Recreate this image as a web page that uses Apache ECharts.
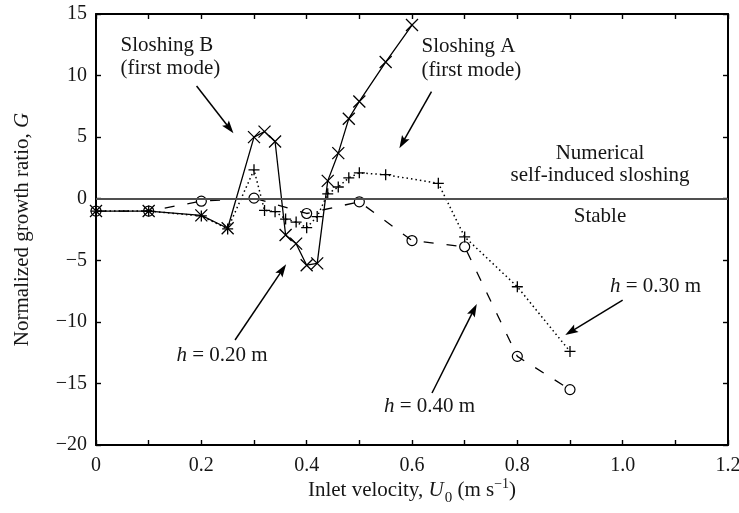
<!DOCTYPE html>
<html>
<head>
<meta charset="utf-8">
<script src="https://cdn.jsdelivr.net/npm/echarts@6/dist/echarts.min.js"></script>
<style>
  html, body { margin: 0; padding: 0; background: #fff; }
  #chart { width: 739px; height: 513px; }
</style>
</head>
<body>
<div id="chart"></div>
<script>
// Inlet velocity U0 (m/s) and normalized growth ratio G for three water depths h
const u020 = [0, 0.1, 0.2, 0.25, 0.3, 0.32, 0.34, 0.36, 0.38, 0.4, 0.42, 0.44, 0.46, 0.48, 0.5, 0.55, 0.6];
const g020 = [-1.0, -1.0, -1.35, -2.4, 5.0, 5.45, 4.65, -2.95, -3.65, -5.4, -5.25, 1.45, 3.7, 6.5, 7.9, 11.1, 14.1];

const u030 = [0, 0.1, 0.2, 0.25, 0.3, 0.32, 0.34, 0.36, 0.38, 0.4, 0.42, 0.44, 0.46, 0.48, 0.5, 0.55, 0.65, 0.7, 0.8, 0.9];
const g030 = [-1.0, -1.0, -1.4, -2.45, 2.35, -0.95, -1.05, -1.65, -1.9, -2.35, -1.45, 0.4, 0.95, 1.7, 2.1, 1.95, 1.25, -3.1, -7.15, -12.4];

const u040 = [0, 0.1, 0.2, 0.3, 0.4, 0.5, 0.6, 0.7, 0.8, 0.9];
const g040 = [-1.0, -1.0, -0.2, 0.05, -1.2, -0.25, -3.4, -3.9, -12.8, -15.5];

// Axis ranges and tick labels
const xMin = 0, xMax = 1.2, xStep = 0.1;
const yMin = -20, yMax = 15, yStep = 5;
const xTickLabels = ['0', '0.2', '0.4', '0.6', '0.8', '1.0', '1.2'];

// Threshold between growing sloshing and stable flow
const stabilityLimit = 0;

const SERIF = '"Liberation Serif", "Times New Roman", serif';
const INK = '#161616';

const chart = echarts.init(document.getElementById('chart'), null, { renderer: 'canvas' });

function pairs(xs, ys) { return xs.map((x, i) => [x, ys[i]]); }

const frameLine = { show: true, onZero: false, lineStyle: { color: '#000', width: 2 } };
const innerTick = { show: true, inside: true, length: 5, lineStyle: { color: '#000', width: 1.4 } };

const option = {
  animation: false,
  backgroundColor: '#fff',
  grid: { left: 96, right: 11, top: 14, bottom: 68, containLabel: false, outerBoundsMode: 'none' },
  xAxis: [
    {
      type: 'value', min: xMin, max: xMax, interval: xStep, position: 'bottom',
      axisLine: frameLine, axisTick: innerTick, splitLine: { show: false },
      axisLabel: {
        show: true, margin: 11, color: INK, fontFamily: SERIF, fontSize: 20,
        showMinLabel: true, showMaxLabel: true,
        formatter: function (v) {
          const k = Math.round(v * 10);
          return k % 2 === 0 ? xTickLabels[k / 2] : '';
        }
      }
    },
    {
      type: 'value', min: xMin, max: xMax, interval: xStep, position: 'top',
      axisLine: frameLine, axisTick: innerTick, splitLine: { show: false },
      axisLabel: { show: false }
    }
  ],
  yAxis: [
    {
      type: 'value', min: yMin, max: yMax, interval: yStep, position: 'left',
      axisLine: frameLine, axisTick: innerTick, splitLine: { show: false },
      axisLabel: {
        show: true, margin: 9, color: INK, fontFamily: SERIF, fontSize: 20,
        showMinLabel: true, showMaxLabel: true,
        formatter: function (v) { return v < 0 ? '\u2212' + Math.abs(v) : String(v); }
      }
    },
    {
      type: 'value', min: yMin, max: yMax, interval: yStep, position: 'right',
      axisLine: frameLine, axisTick: innerTick, splitLine: { show: false },
      axisLabel: { show: false }
    }
  ],
  series: [
    {
      name: 'h = 0.40 m', type: 'line', xAxisIndex: 0, yAxisIndex: 0,
      data: pairs(u040, g040),
      symbol: 'circle', symbolSize: 10,
      itemStyle: { color: 'rgba(0,0,0,0)', borderColor: '#000', borderWidth: 1.2 },
      lineStyle: { color: '#000', width: 1.3, type: [10, 13] },
      emphasis: { disabled: true },
      markLine: {
        silent: true, symbol: ['none', 'none'], label: { show: false },
        lineStyle: { color: '#505050', width: 2, type: 'solid' },
        emphasis: { disabled: true },
        data: [{ yAxis: stabilityLimit }]
      }
    },
    {
      name: 'h = 0.30 m', type: 'line', xAxisIndex: 0, yAxisIndex: 0,
      data: pairs(u030, g030),
      symbol: 'path://M5,0L5,10M0,5L10,5', symbolSize: 11,
      itemStyle: { color: '#000', borderColor: '#000', borderWidth: 1.3 },
      lineStyle: { color: '#000', width: 1.5, type: [1.5, 3] },
      emphasis: { disabled: true }
    },
    {
      name: 'h = 0.20 m', type: 'line', xAxisIndex: 0, yAxisIndex: 0,
      data: pairs(u020, g020),
      symbol: 'path://M0,0L10,10M0,10L10,0', symbolSize: 12,
      itemStyle: { color: '#000', borderColor: '#000', borderWidth: 1.3 },
      lineStyle: { color: '#000', width: 1.3, type: 'solid' },
      emphasis: { disabled: true }
    }
  ]
};

chart.setOption(option);

// ---- annotations: arrows are given in data units (U0, G), text in pixels ----
const arrows = [
  { from: [0.191, 9.15], to: [0.261, 5.31] },     // Sloshing B
  { from: [0.637, 8.69], to: [0.576, 4.09] },     // Sloshing A
  { from: [0.264, -11.47], to: [0.361, -5.33] },  // h = 0.20 m
  { from: [0.638, -15.78], to: [0.723, -8.55] },  // h = 0.40 m
  { from: [1.0, -8.23], to: [0.891, -11.07] }     // h = 0.30 m
];

function arrowElements(a) {
  const p0 = chart.convertToPixel({ seriesIndex: 0 }, a.from);
  const p1 = chart.convertToPixel({ seriesIndex: 0 }, a.to);
  const dx = p1[0] - p0[0], dy = p1[1] - p0[1];
  const len = Math.hypot(dx, dy);
  const ux = dx / len, uy = dy / len;
  const head = 13, half = 4.3;
  const bx = p1[0] - ux * head, by = p1[1] - uy * head;
  return [
    {
      type: 'line', silent: true, z: 50,
      shape: { x1: p0[0], y1: p0[1], x2: bx + ux * 3, y2: by + uy * 3 },
      style: { stroke: '#000', lineWidth: 1.5 }
    },
    {
      type: 'polygon', silent: true, z: 50,
      shape: { points: [[p1[0], p1[1]], [bx - uy * half, by + ux * half], [bx + ux * 2.5, by + uy * 2.5], [bx + uy * half, by - ux * half]] },
      style: { fill: '#000' }
    }
  ];
}

const F = '21px ' + SERIF;
const FI = 'italic 21px ' + SERIF;

function plainText(text, x, y, align) {
  return {
    type: 'text', silent: true, z: 60, x: x, y: y,
    style: { text: text, font: F, fill: INK, align: align, textAlign: align, verticalAlign: 'middle', textVerticalAlign: 'middle' }
  };
}

function depthLabel(value, x, y) {
  return {
    type: 'text', silent: true, z: 60, x: x, y: y,
    style: {
      text: '{i|h}{n| = ' + value + ' m}', fill: INK,
      align: 'left', textAlign: 'left', verticalAlign: 'middle', textVerticalAlign: 'middle',
      rich: { i: { font: FI, fill: INK }, n: { font: F, fill: INK } }
    }
  };
}

const texts = [
  plainText('Sloshing B', 120.5, 45, 'left'),
  plainText('(first mode)', 120.5, 68, 'left'),
  plainText('Sloshing A', 421.5, 46.5, 'left'),
  plainText('(first mode)', 421.5, 70, 'left'),
  plainText('Numerical', 600, 153.5, 'center'),
  plainText('self-induced sloshing', 600, 175.5, 'center'),
  plainText('Stable', 600, 216.5, 'center'),
  depthLabel('0.30', 610, 286.5),
  depthLabel('0.20', 176.5, 355),
  depthLabel('0.40', 384, 406.5)
];

// Axis titles with italic symbols, subscript and superscript
const LH = 34;
const xTitle = {
  type: 'text', silent: true, z: 60, x: 412, y: 490,
  style: {
    text: '{n|Inlet velocity, }{i|U}{sub|0}{n| (m s}{sup|\u22121}{n|)}',
    fill: INK, align: 'center', textAlign: 'center', verticalAlign: 'middle', textVerticalAlign: 'middle',
    rich: {
      n: { font: F, fill: INK, lineHeight: LH },
      i: { font: FI, fill: INK, lineHeight: LH },
      sub: { font: '15px ' + SERIF, fill: INK, lineHeight: LH, padding: [17, 0, 0, 1] },
      sup: { font: '14px ' + SERIF, fill: INK, lineHeight: LH, padding: [0, 0, 12, 0] }
    }
  }
};

const yTitle = {
  type: 'text', silent: true, z: 60, x: 22, y: 229.5, rotation: Math.PI / 2,
  style: {
    text: '{n|Normalized growth ratio, }{i|G}',
    fill: INK, align: 'center', textAlign: 'center', verticalAlign: 'middle', textVerticalAlign: 'middle',
    rich: { n: { font: F, fill: INK }, i: { font: FI, fill: INK } }
  }
};

let elements = [];
arrows.forEach(a => { elements = elements.concat(arrowElements(a)); });
elements = elements.concat(texts, [xTitle, yTitle]);

chart.setOption({ graphic: { elements: elements } });
</script>
</body>
</html>
